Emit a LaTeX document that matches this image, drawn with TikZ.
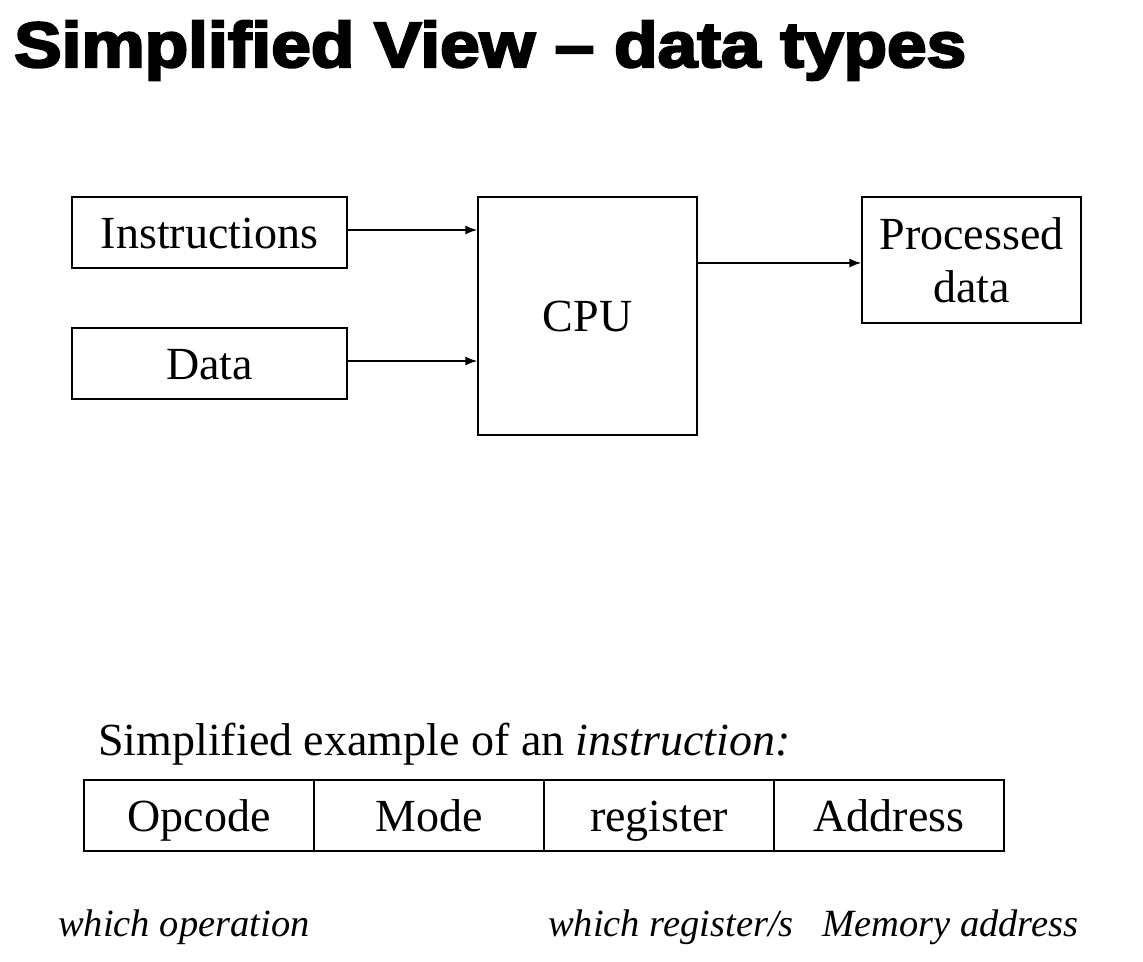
\documentclass[tikz,border=0pt]{standalone}
\usepackage{fontspec}
\usepackage{graphicx}
\setmainfont{Liberation Serif}
\newfontfamily\titlefont[FakeBold=3.5]{Liberation Sans Bold}
\usetikzlibrary{arrows.meta}
\begin{document}
\begin{tikzpicture}[x=1pt,y=-1pt,
  box/.style={draw,line width=1.3pt,inner sep=0pt,font=\fontsize{46}{53}\selectfont,align=center},
  onebox/.style={box,text height=31pt,text depth=0pt},
  cell/.style={onebox,minimum width=230pt,minimum height=71pt},
  arr/.style={line width=1.8pt,-{Latex[length=12pt,width=9pt]}},
  lbl/.style={inner sep=0pt,anchor=base west,font=\fontsize{38.5}{46}\selectfont\itshape}]
\useasboundingbox[fill=white] (0,0) rectangle (1143,961);
% title
\node[inner sep=0pt,anchor=base west] (title) at (14,67)
  {\resizebox{952pt}{\height}{\titlefont\fontsize{64}{70}\selectfont Simplified View – data types}};
% top diagram
\node[onebox,minimum width=275pt,minimum height=71pt] (instr) at (209.5,232.5) {Instructions};
\node[onebox,minimum width=275pt,minimum height=71pt] (data) at (209.5,363.5) {Data};
\node[onebox,minimum width=219pt,minimum height=238pt] (cpu) at (587.5,316) {CPU};
\node[box,minimum width=219pt,minimum height=126pt] (proc) at (971.5,260) {Processed\\data};
\draw[arr] ([yshift=2.5pt]instr.east) -- ([yshift=2.5pt]instr.east -| cpu.west);
\draw[arr] ([yshift=2.5pt]data.east) -- ([yshift=2.5pt]data.east -| cpu.west);
\draw[arr] ([yshift=-3pt]proc.west -| cpu.east) -- ([yshift=-3pt]proc.west);
% instruction example
\node[inner sep=0pt,anchor=base west,font=\fontsize{46}{55}\selectfont] (ex) at (98,755)
  {Simplified example of an \textit{instruction:}};
\node[cell] (op) at (199,815.5) {Opcode};
\node[cell] (mode) at (429,815.5) {Mode};
\node[cell] (reg) at (659,815.5) {register};
\node[cell] (addr) at (889,815.5) {Address};
\node[lbl] (l1) at (58,936) {which operation};
\node[lbl] (l2) at (548,936) {which register/s};
\node[lbl] (l3) at (822,936) {Memory address};
\end{tikzpicture}
\end{document}
